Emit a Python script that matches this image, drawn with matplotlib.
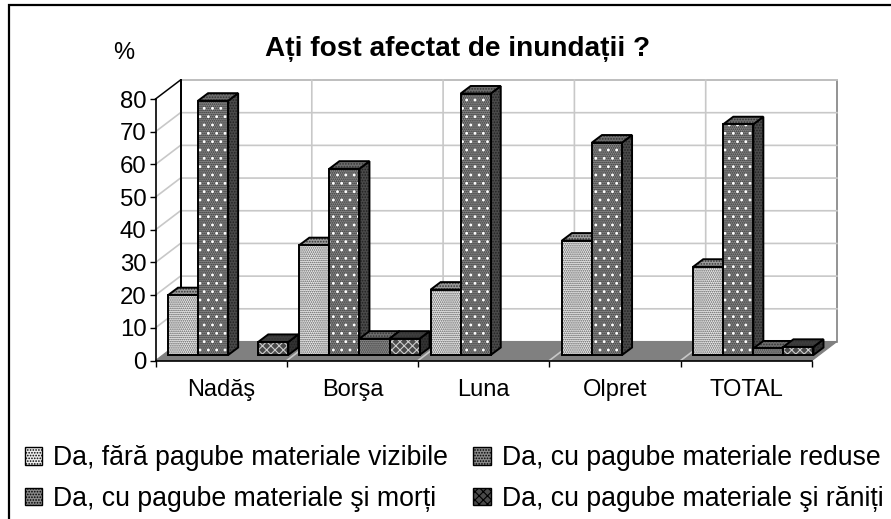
import matplotlib
matplotlib.use("Agg")
import matplotlib.pyplot as plt
from matplotlib.patches import Polygon, Patch, Rectangle

plt.rcParams['font.family'] = ['Liberation Sans', 'DejaVu Sans']
plt.rcParams['hatch.linewidth'] = 0.8

categories = ["Nadăş", "Borşa", "Luna", "Olpret", "TOTAL"]
series_names = ["Da, fără pagube materiale vizibile", "Da, cu pagube materiale reduse",
                "Da, cu pagube materiale şi morți", "Da, cu pagube materiale şi răniți"]
s1 = [18.3, 33.6, 20, 35, 27]
s2 = [77.8, 57, 80, 65, 70.6]
s3 = [0, 5, 0, 0, 2]
s4 = [4, 5, 0, 0, 2.5]
series = [s1, s2, s3, s4]
yticks = list(range(0, 90, 10))

faces = ["#eeeeee", "#8a8a8a", "#8a8a8a", "#4a4a4a"]
under_hatch = [None, "........", None, None]
hatch_colors = ["#555555", "#ffffff", "#3c3c3c", "#cccccc"]
hatches = ["........", "..", "........", "xxxx"]
tops = ["#9a9a9a", "#6e6e6e", "#6e6e6e", "#3e3e3e"]
sides = ["#808080", "#4a4a4a", "#4a4a4a", "#333333"]

W, H = 891, 519
L, R, B, T = 155.5, 812, 360.5, 99
fig = plt.figure(figsize=(W/100, H/100), dpi=100)
ax = fig.add_axes([L/W, 1-B/H, (R-L)/W, (B-T)/H])
ax.set_xlim(0, 5)
ax.set_ylim(0, 80)
ax.patch.set_alpha(0)
sx = 5/(R-L)
sy = 80/(B-T)
DX, DY = 25*sx, 19*sy      # wall depth
dx, dy = 10*sx, 7.5*sy     # bar depth
ox, oy = 7*sx, 5.5*sy      # bar front offset from the floor front
bw = 0.229
margin = (1-4*bw)/2

# frame (only top and left edges fall inside the picture)
fig.add_artist(Rectangle((8.7/W, 1-530/H), 900/W, 525.3/H, fc="white", ec="black", lw=1.6,
                         transform=fig.transFigure, zorder=-5))
# walls and floor
ax.add_patch(Polygon([(0, 0), (DX, DY), (DX, 80+DY), (0, 80)], fc="white", ec="none", zorder=1, clip_on=False))
ax.add_patch(Rectangle((DX, DY), 5, 80, fc="white", ec="#808080", lw=1.2, zorder=1, clip_on=False))
ax.add_patch(Polygon([(0, 0), (DX, DY), (5+DX, DY), (5, 0)], fc="#808080", ec="#808080", lw=0.8, zorder=1.2, clip_on=False))
ax.plot([DX, DX], [DY, 80+DY], color="black", lw=1.4, zorder=1.6, clip_on=False)
ax.plot([0, DX], [80, 80+DY], color="black", lw=1.0, zorder=1.6, clip_on=False)
for v in yticks[1:]:
    ax.plot([0, DX, 5+DX], [v, v+DY, v+DY], color="#c8c8c8", lw=1.2, zorder=1.4, clip_on=False)
for c in range(1, 5):
    ax.plot([c, c+DX, c+DX], [0, DY, 80+DY], color="#c8c8c8", lw=1.2, zorder=1.4, clip_on=False)

def face(pts, fc, hatch, hc, z, under=None):
    ax.add_patch(Polygon(pts, fc=fc, ec="#333333" if under else hc, hatch=under or hatch, lw=0, zorder=z, clip_on=False))
    if under:
        ax.add_patch(Polygon(pts, fc="none", ec=hc, hatch=hatch, lw=0, zorder=z+0.005, clip_on=False))
    ax.add_patch(Polygon(pts, fc="none", ec="black", lw=1.4, zorder=z+0.01, clip_on=False))

for c in range(len(categories)):
    for k, vals in enumerate(series):
        v = vals[c]
        if v <= 0:
            continue
        x0 = c + margin + ox + k*bw
        x1 = x0 + bw
        z = 3 + c + k*0.1
        face([(x0, oy), (x1, oy), (x1, oy+v), (x0, oy+v)], faces[k], hatches[k], hatch_colors[k], z + 0.05, under_hatch[k])
        face([(x0, oy+v), (x1, oy+v), (x1+dx, oy+v+dy), (x0+dx, oy+v+dy)], tops[k], "......", "#333333", z + 0.03)
        face([(x1, oy), (x1+dx, oy+dy), (x1+dx, oy+v+dy), (x1, oy+v)], sides[k], "......", "#222222", z)

# axes
for s in ("top", "right"):
    ax.spines[s].set_visible(False)
for s in ("left", "bottom"):
    ax.spines[s].set_linewidth(1.2)
    ax.spines[s].set_zorder(20)
ax.set_yticks(yticks)
ax.tick_params(axis="y", labelsize=17.3, length=4.5, width=1.0, pad=2)
ax.set_xticks(range(6))
ax.set_xticklabels([])
ax.tick_params(axis="x", which="major", length=4.5, width=1.0)
ax.set_xticks([i+0.5 for i in range(5)], minor=True)
ax.set_xticklabels(categories, minor=True, fontsize=17)
ax.tick_params(axis="x", which="minor", length=0, pad=13)

fig.text(458/W, 1-49/H, "Ați fost afectat de inundații ?", ha="center", va="center",
         fontsize=20.2, fontweight="bold")
fig.text(123.5/W, 1-53/H, "%", ha="center", va="center", fontsize=17)

order = [0, 2, 1, 3]
handles = [Patch(facecolor=faces[k], edgecolor="black", hatch="......" if k != 3 else "xxxx", lw=1.0)
           for k in order]
leg = fig.legend(handles, [series_names[k] for k in order], ncol=2, loc="lower left",
                 bbox_to_anchor=(25/W, 1-512/H),
                 frameon=False, fontsize=19.2, handlelength=0.64, handleheight=0.64, handletextpad=0.42,
                 columnspacing=0.95, labelspacing=0.56, borderpad=0, borderaxespad=0)
fig.savefig("out.png", dpi=100)
